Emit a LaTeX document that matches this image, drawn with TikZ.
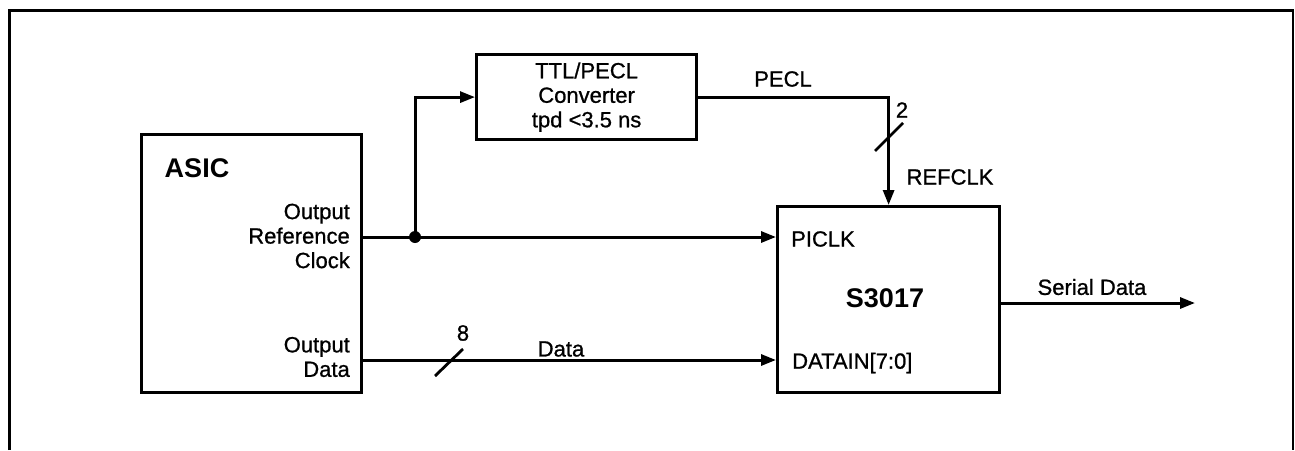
\documentclass[tikz,border=0pt]{standalone}
\usepackage{fontspec}
\setmainfont{Liberation Sans}
\newfontfamily\medfont{Liberation Sans}[FakeBold=0.9]
\usetikzlibrary{arrows.meta}
\begin{document}
\begin{tikzpicture}[x=1pt,y=-1pt,
  blk/.style={draw, line width=3.2pt, inner sep=0pt, anchor=north west},
  conn/.style={line width=3pt},
  arr/.style={conn, -{Triangle[length=15pt,width=11pt]}},
  lbl/.style={font=\fontsize{22}{24.5}\medfont, inner sep=0pt},
  blbl/.style={font=\fontsize{27}{30}\selectfont\bfseries, inner sep=0pt},
  bus/.style={line width=2.8pt}]
\useasboundingbox (0,0) rectangle (1295,450);
% frame
\draw[line width=3pt] (9,450) -- (9,10) -- (1293,10);
\draw[line width=1.8pt] (1180,10) -- (1293,10) -- (1293,450);
% blocks
\node[blk, minimum width=220pt, minimum height=258pt] (asic) at (140,133) {};
\node[blk, minimum width=220pt, minimum height=85pt] (conv) at (475,53) {};
\node[blk, minimum width=222pt, minimum height=186pt] (s) at (776,205) {};
% coordinates
\coordinate (j) at (415,237);
\coordinate (dy) at (0,360);
\coordinate (sy) at (0,303);
\coordinate (out) at (1195,303);
% labels
\node[blbl] (asictext) at (197,168) {ASIC};
\node[lbl, align=right, anchor=east] (orc) at (350,236) {Output\\Reference\\Clock};
\node[lbl, align=right, anchor=east] (od) at (350,357) {Output\\Data};
\node[lbl, align=center] (convtext) at (conv.center) {TTL/PECL\\Converter\\tpd <3.5 ns};
\node[lbl] (pecl) at (783,79) {PECL};
\node[lbl] (two) at (902,110) {2};
\node[lbl] (refclk) at (950,177) {REFCLK};
\node[lbl] (eight) at (463,333) {8};
\node[lbl] (data) at (561,349) {Data};
\node[lbl, anchor=west] (piclk) at (791,239) {PICLK};
\node[blbl] (stext) at (885,298) {S3017};
\node[lbl, anchor=west] (datain) at (792,363) {DATAIN[7:0]};
\node[lbl] (serial) at (1092,287) {Serial Data};
% connectors
\draw[conn] (j -| asic.east) -- (j);
\draw[arr] (j) -- (j -| s.west);
\fill (j) circle (6pt);
\draw[arr] (j) |- (conv.west);
\draw[arr] (conv.east) -| (s.north);
\draw[arr] (dy -| asic.east) -- (dy -| s.west);
\draw[arr] (sy -| s.east) -- (out);
% bus slashes
\draw[bus] (875,151) -- (903,123);
\draw[bus] (435,376) -- (463,349);
\end{tikzpicture}
\end{document}
